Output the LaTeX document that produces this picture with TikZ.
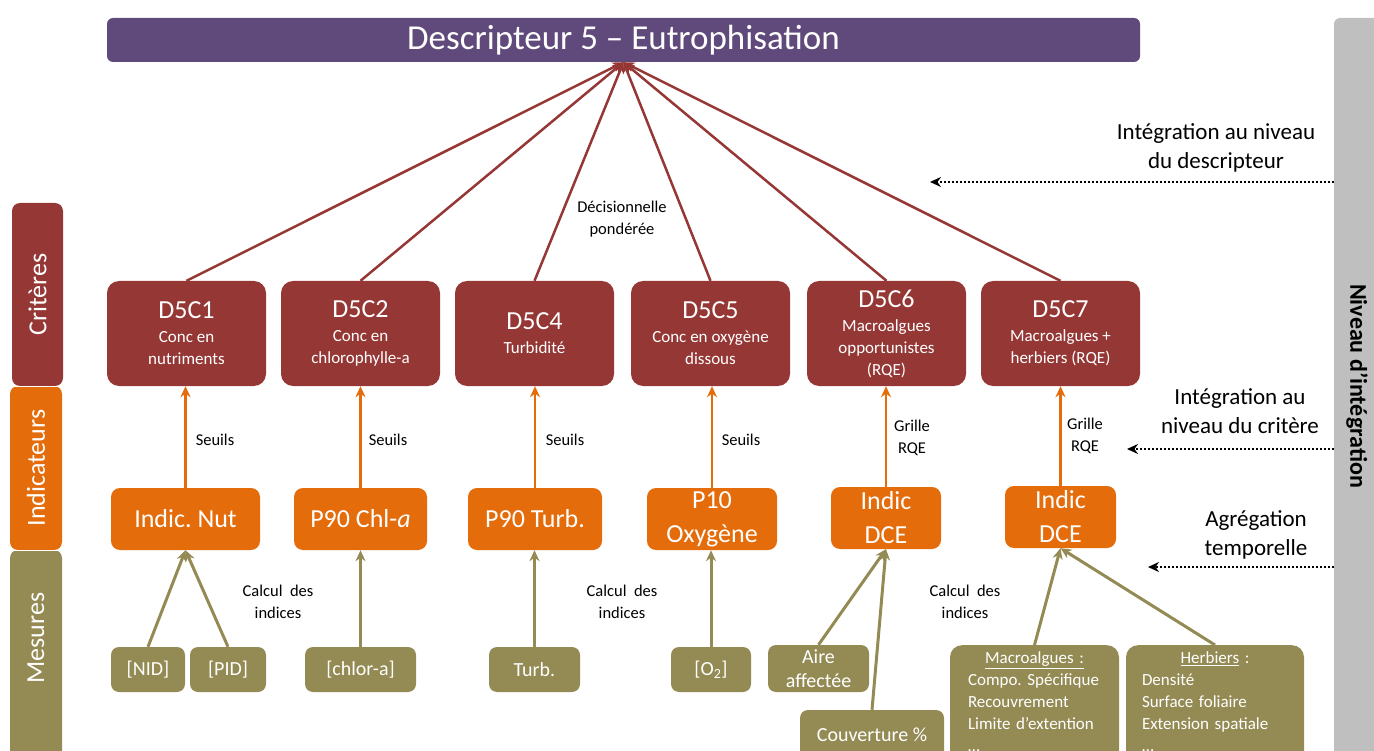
\documentclass[tikz,border=0pt]{standalone}
\usepackage{fontspec}
\setmainfont{Carlito}
\usetikzlibrary{arrows.meta}

\definecolor{titlepurple}{HTML}{604A7B}
\definecolor{critred}{HTML}{953735}
\definecolor{indorange}{HTML}{E46C0A}
\definecolor{mesolive}{HTML}{948A54}
\definecolor{levgrey}{HTML}{BFBFBF}

\tikzset{
  titlebox/.style={fill=titlepurple, text=white, rounded corners=6pt, minimum width=1033pt, minimum height=44pt, font=\fontsize{35}{35}\selectfont},
  critbox/.style={fill=critred, text=white, rounded corners=12pt, minimum width=159pt, minimum height=105pt, align=center, inner sep=2pt, font=\fontsize{17}{22}\selectfont},
  indbox/.style={fill=indorange, text=white, rounded corners=9pt, minimum height=62pt, align=center, inner sep=2pt, font=\fontsize{26}{34}\selectfont},
  mesbox/.style={fill=mesolive, text=white, rounded corners=8pt, minimum height=45pt, align=center, inner sep=2pt, font=\fontsize{20}{25}\selectfont},
  listbox/.style={fill=mesolive, text=white, rounded corners=12pt, anchor=north, align=left, inner ysep=6.5pt, text depth=115pt, font=\fontsize{17}{22}\selectfont},
  sidelabel/.style={text=white, rotate=90, font=\fontsize{26}{26}\selectfont},
  lbl/.style={align=center, font=\fontsize{16.5}{22}\selectfont},
  levtxt/.style={align=center, font=\fontsize{23}{29}\selectfont},
  critline/.style={critred, line width=2.5pt, ->},
  indline/.style={indorange, line width=2.5pt, ->},
  mesline/.style={mesolive, line width=3pt, ->},
  levelline/.style={black, dotted, line width=2pt, ->},
}

\begin{document}
\frenchspacing
\begin{tikzpicture}[x=1pt, y=-1pt, >={Stealth[length=11pt,width=10pt]}]
    \useasboundingbox (0,0) rectangle (1374,751);
    \clip (0,0) rectangle (1374,751);

    % bandeaux lateraux
    \fill[critred, rounded corners=8pt] (12,203) rectangle (63,386);
    \fill[indorange, rounded corners=8pt] (10,386) rectangle (62,550);
    \fill[mesolive, rounded corners=8pt] (10,550) rectangle (62,800);
    \draw[white, line width=1pt] (8,386) -- (66,386) (8,550) -- (66,550);
    \node[sidelabel] (lcrit) at (37.5,294.5) {Critères};
    \node[sidelabel] (lind) at (36,468) {Indicateurs};
    \node[sidelabel] (lmes) at (36,638) {Mesures};

    \fill[levgrey, rounded corners=6pt] (1334,18) rectangle (1400,800);
    \node[rotate=-90, font=\fontsize{24}{24}\selectfont\bfseries] (niveau) at (1357,386) {Niveau d’intégration};

    \node[titlebox] (title) at (623.5,40) {Descripteur 5 – Eutrophisation};

    % criteres
    \node[critbox] (c1) at (186.5,333.5) {{\fontsize{26}{30}\selectfont D5C1}\\[2pt] Conc en\\ nutriments};
    \node[critbox] (c2) at (360.5,333.5) {{\fontsize{26}{30}\selectfont D5C2}\\[2pt] Conc en\\ chlorophylle-a};
    \node[critbox] (c4) at (534.5,333.5) {{\fontsize{26}{30}\selectfont D5C4}\\[2pt] Turbidité};
    \node[critbox] (c5) at (710.5,333.5) {{\fontsize{26}{30}\selectfont D5C5}\\[2pt] Conc en oxygène\\ dissous};
    \node[critbox] (c6) at (886.5,333.5) {{\fontsize{26}{30}\selectfont D5C6}\\[2pt] Macroalgues\\ opportunistes\\ (RQE)};
    \node[critbox] (c7) at (1060.5,333.5) {{\fontsize{26}{30}\selectfont D5C7}\\[2pt] Macroalgues +\\ herbiers (RQE)};

    % indicateurs
    \node[indbox, minimum width=149pt] (i1) at (185.5,519) {Indic. Nut};
    \node[indbox, minimum width=133pt] (i2) at (360.5,519) {P90 Chl-\textit{a}};
    \node[indbox, minimum width=134pt] (i4) at (535,519) {P90 Turb.};
    \node[indbox, minimum width=130pt] (i5) at (712,519) {P10\\ Oxygène};
    \node[indbox, minimum width=110pt] (i6) at (886,518) {Indic\\ DCE};
    \node[indbox, minimum width=111pt] (i7) at (1060.5,517) {Indic\\ DCE};

    % mesures
    \node[mesbox, minimum width=74pt] (nid) at (148,669.5) {[NID]};
    \node[mesbox, minimum width=76pt] (pid) at (228,669.5) {[PID]};
    \node[mesbox, minimum width=111pt] (chlor) at (360.5,669.5) {[chlor-a]};
    \node[mesbox, minimum width=91pt] (turb) at (534.5,669.5) {Turb.};
    \node[mesbox, minimum width=80pt] (oxy) at (711,669.5) {[O\textsubscript{2}]};
    \node[mesbox, minimum width=101pt, minimum height=47pt, font=\fontsize{20}{24}\selectfont] (aire) at (818.5,668.5) {Aire\\ affectée};
    \node[mesbox, minimum width=144pt, minimum height=50pt] (couv) at (872,735) {Couverture \%};
    \node[listbox, text width=133pt, inner xsep=18pt] (macro) at (1034.5,645) {\makebox[\hsize]{\underline{Macroalgues :}}\\ Compo. Spécifique\\ Recouvrement\\ Limite d’extention\\ …};
    \node[listbox, text width=146pt, inner xsep=16pt] (herb) at (1215,645) {\makebox[\hsize]{\underline{Herbiers} :}\\ Densité\\ Surface foliaire\\ Extension spatiale\\ …};

    % integration au descripteur
    \draw[critline] (c1.north) -- (title.south);
    \draw[critline] (c2.north) -- (title.south);
    \draw[critline] (c4.north) -- (title.south);
    \draw[critline] (c5.north) -- (title.south);
    \draw[critline] (c6.north) -- (title.south);
    \draw[critline] (c7.north) -- (title.south);
    \node[lbl] (decis) at (622,219) {Décisionnelle\\ pondérée};

    % seuils
    \draw[indline] (i1.north) -- (i1.north |- c1.south);
    \draw[indline] (i2.north) -- (i2.north |- c2.south);
    \draw[indline] (i4.north) -- (i4.north |- c4.south);
    \draw[indline] (i5.north) -- (i5.north |- c5.south);
    \draw[indline] (i6.north) -- (i6.north |- c6.south);
    \draw[indline] (i7.north) -- (i7.north |- c7.south);
    \node[lbl] (s1) at (215,440) {Seuils};
    \node[lbl] (s2) at (388,440) {Seuils};
    \node[lbl] (s4) at (565,440) {Seuils};
    \node[lbl] (s5) at (741,440) {Seuils};
    \node[lbl] (g6) at (912,438) {Grille\\ RQE};
    \node[lbl] (g7) at (1085,436) {Grille\\ RQE};

    % calcul des indices
    \draw[mesline] (nid.north) -- (i1.south);
    \draw[mesline] (pid.north) -- (i1.south);
    \draw[mesline] (chlor.north) -- (chlor.north |- i2.south);
    \draw[mesline] (turb.north) -- (turb.north |- i4.south);
    \draw[mesline] (oxy.north) -- (oxy.north |- i5.south);
    \draw[mesline] (aire.north) -- (i6.south);
    \draw[mesline] (couv.north) -- (i6.south);
    \draw[mesline] (macro.north) -- (i7.south);
    \draw[mesline] (herb.north) -- (i7.south);
    \node[lbl] (k1) at (278,602) {Calcul\ \ des\\ indices};
    \node[lbl] (k2) at (622,602) {Calcul\ \ des\\ indices};
    \node[lbl] (k3) at (965,602) {Calcul\ \ des\\ indices};

    % niveaux d'integration
    \coordinate (lv1) at (1334,182);
    \coordinate (lv1e) at (930,182);
    \coordinate (lv2) at (1334,449);
    \coordinate (lv2e) at (1127,449);
    \coordinate (lv3) at (1334,567);
    \coordinate (lv3e) at (1148,567);
    \draw[levelline] (lv1) -- (lv1e);
    \draw[levelline] (lv2) -- (lv2e);
    \draw[levelline] (lv3) -- (lv3e);
    \node[levtxt] (t1) at (1216,148) {Intégration au niveau\\ du descripteur};
    \node[levtxt] (t2) at (1240,411) {Intégration au\\ niveau du critère};
    \node[levtxt] (t3) at (1256,535) {Agrégation\\ temporelle};
\end{tikzpicture}
\end{document}
